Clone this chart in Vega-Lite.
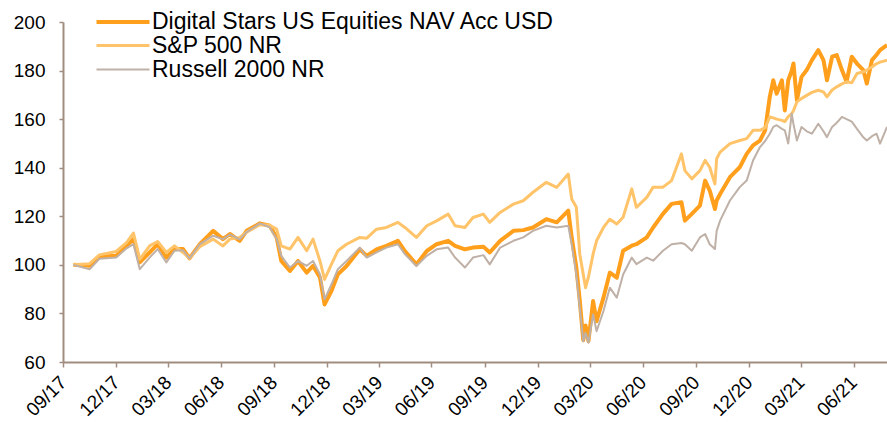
{
  "$schema": "https://vega.github.io/schema/vega-lite/v6.json",
  "width": 824,
  "height": 340,
  "autosize": {"type": "none"},
  "padding": {"left": 63, "top": 22, "right": 0, "bottom": 63},
  "background": "white",
  "config": {"view": {"stroke": null}, "font": "Liberation Sans"},
  "data": {"values": [
    {"date": "2017-10-18", "fund": 100, "sp": 100, "rus": 100},
    {"date": "2017-11-15", "fund": 99.6, "sp": 100.5, "rus": 98.2},
    {"date": "2017-12-02", "fund": 103.3, "sp": 104.1, "rus": 102.5},
    {"date": "2017-12-31", "fund": 103.7, "sp": 105.5, "rus": 103},
    {"date": "2018-01-18", "fund": 107.8, "sp": 109.2, "rus": 106.8},
    {"date": "2018-01-30", "fund": 110.6, "sp": 113.1, "rus": 108.5},
    {"date": "2018-02-10", "fund": 101, "sp": 102.3, "rus": 98.2},
    {"date": "2018-02-27", "fund": 105.1, "sp": 107.8, "rus": 103},
    {"date": "2018-03-13", "fund": 108.5, "sp": 109.6, "rus": 106.5},
    {"date": "2018-03-28", "fund": 103, "sp": 105.1, "rus": 101},
    {"date": "2018-04-11", "fund": 106.5, "sp": 107.8, "rus": 105.8},
    {"date": "2018-04-26", "fund": 106.5, "sp": 105.1, "rus": 106},
    {"date": "2018-05-07", "fund": 102.7, "sp": 102.7, "rus": 102.7},
    {"date": "2018-05-25", "fund": 108.5, "sp": 107.5, "rus": 108.5},
    {"date": "2018-06-17", "fund": 114, "sp": 110.6, "rus": 112},
    {"date": "2018-07-04", "fund": 110.6, "sp": 107.8, "rus": 110.6},
    {"date": "2018-07-16", "fund": 112.7, "sp": 110.6, "rus": 112.5},
    {"date": "2018-08-02", "fund": 109.9, "sp": 111.3, "rus": 110.5},
    {"date": "2018-08-14", "fund": 114, "sp": 113.5, "rus": 113.5},
    {"date": "2018-09-06", "fund": 117.1, "sp": 116.5, "rus": 117.1},
    {"date": "2018-09-23", "fund": 116.1, "sp": 116.3, "rus": 115.5},
    {"date": "2018-10-05", "fund": 111.3, "sp": 114.7, "rus": 110.6},
    {"date": "2018-10-13", "fund": 101.6, "sp": 107.8, "rus": 103.7},
    {"date": "2018-10-28", "fund": 97.5, "sp": 106.5, "rus": 98.9},
    {"date": "2018-11-11", "fund": 101.6, "sp": 111.3, "rus": 101.6},
    {"date": "2018-11-26", "fund": 96.8, "sp": 105.8, "rus": 99.6},
    {"date": "2018-12-07", "fund": 99.6, "sp": 110.6, "rus": 101.6},
    {"date": "2018-12-19", "fund": 94.8, "sp": 101.6, "rus": 96.1},
    {"date": "2018-12-27", "fund": 83.7, "sp": 94, "rus": 85.8},
    {"date": "2019-01-08", "fund": 89.3, "sp": 100.3, "rus": 92},
    {"date": "2019-01-19", "fund": 96.1, "sp": 105.8, "rus": 98.2},
    {"date": "2019-02-03", "fund": 99.5, "sp": 108.5, "rus": 101.6},
    {"date": "2019-02-26", "fund": 106.4, "sp": 111.3, "rus": 107.1},
    {"date": "2019-03-10", "fund": 103.7, "sp": 111, "rus": 103},
    {"date": "2019-03-27", "fund": 106.4, "sp": 114.7, "rus": 105.1},
    {"date": "2019-04-13", "fund": 107.8, "sp": 115.4, "rus": 107.1},
    {"date": "2019-05-03", "fund": 109.9, "sp": 117.5, "rus": 108.5},
    {"date": "2019-05-15", "fund": 105.7, "sp": 115.4, "rus": 104.4},
    {"date": "2019-06-04", "fund": 100.2, "sp": 111.3, "rus": 99.5},
    {"date": "2019-06-22", "fund": 105.7, "sp": 116.1, "rus": 103.7},
    {"date": "2019-07-09", "fund": 108.5, "sp": 118.1, "rus": 106.4},
    {"date": "2019-07-29", "fund": 109.9, "sp": 120.9, "rus": 107.1},
    {"date": "2019-08-10", "fund": 107.8, "sp": 116.1, "rus": 103},
    {"date": "2019-08-27", "fund": 106.4, "sp": 115.4, "rus": 98.9},
    {"date": "2019-09-10", "fund": 107.1, "sp": 119.5, "rus": 103},
    {"date": "2019-09-28", "fund": 107.5, "sp": 120.9, "rus": 104},
    {"date": "2019-10-09", "fund": 105.1, "sp": 117.5, "rus": 100.2},
    {"date": "2019-10-27", "fund": 109.9, "sp": 121.6, "rus": 107.1},
    {"date": "2019-11-19", "fund": 114, "sp": 125, "rus": 109.9},
    {"date": "2019-12-06", "fund": 114.3, "sp": 126.4, "rus": 111.3},
    {"date": "2019-12-23", "fund": 115.4, "sp": 129.9, "rus": 114},
    {"date": "2020-01-15", "fund": 118.8, "sp": 134, "rus": 116.1},
    {"date": "2020-02-02", "fund": 117.5, "sp": 131.9, "rus": 115.4},
    {"date": "2020-02-22", "fund": 122.3, "sp": 137.4, "rus": 116.1},
    {"date": "2020-02-28", "fund": 111.3, "sp": 127.1, "rus": 108.5},
    {"date": "2020-03-07", "fund": 98.9, "sp": 123.7, "rus": 96.1},
    {"date": "2020-03-13", "fund": 85.1, "sp": 104.4, "rus": 82.3},
    {"date": "2020-03-19", "fund": 69, "sp": 96, "rus": 68.5},
    {"date": "2020-03-23", "fund": 75, "sp": 90.6, "rus": 72},
    {"date": "2020-03-28", "fund": 68.6, "sp": 95, "rus": 67.9},
    {"date": "2020-04-05", "fund": 85.1, "sp": 104.4, "rus": 79.6},
    {"date": "2020-04-11", "fund": 76.8, "sp": 109.9, "rus": 72.7},
    {"date": "2020-04-23", "fund": 86.5, "sp": 115.4, "rus": 81},
    {"date": "2020-05-04", "fund": 96.8, "sp": 118.8, "rus": 90.6},
    {"date": "2020-05-16", "fund": 94.7, "sp": 116.8, "rus": 86.5},
    {"date": "2020-05-27", "fund": 105.8, "sp": 119.6, "rus": 96},
    {"date": "2020-06-11", "fund": 107.9, "sp": 131.3, "rus": 103},
    {"date": "2020-06-19", "fund": 108.5, "sp": 123.7, "rus": 100.3},
    {"date": "2020-07-07", "fund": 111.3, "sp": 127.8, "rus": 103},
    {"date": "2020-07-18", "fund": 115.4, "sp": 132, "rus": 101.7},
    {"date": "2020-08-04", "fund": 121, "sp": 132, "rus": 105.8},
    {"date": "2020-08-19", "fund": 125.1, "sp": 134.7, "rus": 108.5},
    {"date": "2020-09-05", "fund": 125.8, "sp": 145.7, "rus": 109},
    {"date": "2020-09-11", "fund": 118.2, "sp": 138.8, "rus": 108.5},
    {"date": "2020-09-23", "fund": 121, "sp": 135.4, "rus": 105.8},
    {"date": "2020-10-07", "fund": 124.4, "sp": 138.8, "rus": 111.3},
    {"date": "2020-10-16", "fund": 134.7, "sp": 143, "rus": 112.7},
    {"date": "2020-10-24", "fund": 130.6, "sp": 140.2, "rus": 108.5},
    {"date": "2020-11-02", "fund": 123, "sp": 133.3, "rus": 106.5},
    {"date": "2020-11-05", "fund": 126.5, "sp": 143.7, "rus": 114},
    {"date": "2020-11-11", "fund": 129.2, "sp": 146.4, "rus": 118.2},
    {"date": "2020-11-28", "fund": 136.1, "sp": 149.9, "rus": 126.5},
    {"date": "2020-12-15", "fund": 140.2, "sp": 151.2, "rus": 132},
    {"date": "2020-12-27", "fund": 145.7, "sp": 152, "rus": 134.7},
    {"date": "2021-01-07", "fund": 149.2, "sp": 155.4, "rus": 143},
    {"date": "2021-01-19", "fund": 151.2, "sp": 155.4, "rus": 148.5},
    {"date": "2021-01-28", "fund": 155.4, "sp": 156.5, "rus": 151},
    {"date": "2021-02-05", "fund": 169.2, "sp": 160.9, "rus": 154},
    {"date": "2021-02-11", "fund": 176, "sp": 160.5, "rus": 156.8},
    {"date": "2021-02-17", "fund": 170.5, "sp": 160, "rus": 157.5},
    {"date": "2021-02-26", "fund": 176, "sp": 159.5, "rus": 156},
    {"date": "2021-03-03", "fund": 163.6, "sp": 159, "rus": 155.4},
    {"date": "2021-03-09", "fund": 176, "sp": 161, "rus": 150},
    {"date": "2021-03-15", "fund": 180, "sp": 162.3, "rus": 162.3},
    {"date": "2021-03-18", "fund": 182.9, "sp": 163.5, "rus": 158},
    {"date": "2021-03-24", "fund": 167.8, "sp": 167.1, "rus": 151.2},
    {"date": "2021-04-01", "fund": 177.4, "sp": 168.5, "rus": 156.8},
    {"date": "2021-04-10", "fund": 180.2, "sp": 169.8, "rus": 155},
    {"date": "2021-04-19", "fund": 184.3, "sp": 171, "rus": 154},
    {"date": "2021-04-30", "fund": 188.4, "sp": 171.9, "rus": 158.1},
    {"date": "2021-05-09", "fund": 184.3, "sp": 171.2, "rus": 155},
    {"date": "2021-05-15", "fund": 176, "sp": 169.2, "rus": 152.6},
    {"date": "2021-05-24", "fund": 185.7, "sp": 172, "rus": 156.8},
    {"date": "2021-06-01", "fund": 186.4, "sp": 173.3, "rus": 158.5},
    {"date": "2021-06-10", "fund": 180.2, "sp": 174.5, "rus": 160.9},
    {"date": "2021-06-18", "fund": 175.4, "sp": 175.4, "rus": 160},
    {"date": "2021-06-27", "fund": 185.7, "sp": 175, "rus": 159},
    {"date": "2021-07-06", "fund": 182.9, "sp": 178.8, "rus": 156},
    {"date": "2021-07-17", "fund": 180.2, "sp": 179.5, "rus": 152.5},
    {"date": "2021-07-23", "fund": 174.7, "sp": 180.2, "rus": 151.2},
    {"date": "2021-08-01", "fund": 184.3, "sp": 181.5, "rus": 153},
    {"date": "2021-08-09", "fund": 186.5, "sp": 182.9, "rus": 154},
    {"date": "2021-08-15", "fund": 188.4, "sp": 183.5, "rus": 149.9},
    {"date": "2021-08-27", "fund": 190.5, "sp": 184.3, "rus": 156.8}
  ]},
  "transform": [{"fold": ["fund", "sp", "rus"], "as": ["series", "value"]}],
  "mark": {"type": "line", "strokeJoin": "round"},
  "encoding": {
    "x": {
      "field": "date", "type": "temporal",
      "scale": {"domain": [{"year": 2017, "month": 9, "date": 30}, {"year": 2021, "month": 8, "date": 27}]},
      "axis": {
        "title": null, "grid": false,
        "values": [
          {"year": 2017, "month": 9, "date": 30}, {"year": 2017, "month": 12, "date": 31},
          {"year": 2018, "month": 3, "date": 31}, {"year": 2018, "month": 6, "date": 30},
          {"year": 2018, "month": 9, "date": 30}, {"year": 2018, "month": 12, "date": 31},
          {"year": 2019, "month": 3, "date": 31}, {"year": 2019, "month": 6, "date": 30},
          {"year": 2019, "month": 9, "date": 30}, {"year": 2019, "month": 12, "date": 31},
          {"year": 2020, "month": 3, "date": 31}, {"year": 2020, "month": 6, "date": 30},
          {"year": 2020, "month": 9, "date": 30}, {"year": 2020, "month": 12, "date": 31},
          {"year": 2021, "month": 3, "date": 31}, {"year": 2021, "month": 6, "date": 30}
        ],
        "format": "%m/%y", "labelAngle": -45, "labelAlign": "right", "labelBaseline": "middle",
        "labelFontSize": 19, "labelColor": "#000000", "labelPadding": 12, "labelDx": -9, "labelDy": 8,
        "labelFlush": false, "labelOverlap": false,
        "tickSize": 5, "tickColor": "#A08D80", "tickWidth": 1.5, "domainColor": "#A08D80", "domainWidth": 2
      }
    },
    "y": {
      "field": "value", "type": "quantitative",
      "scale": {"domain": [60, 200], "nice": false, "zero": false},
      "axis": {
        "title": null, "grid": false, "values": [60, 80, 100, 120, 140, 160, 180, 200],
        "labelFontSize": 19, "labelColor": "#000000", "labelPadding": 14,
        "tickSize": 4, "tickColor": "#A08D80", "tickWidth": 1.5, "domainColor": "#A08D80", "domainWidth": 2
      }
    },
    "color": {
      "field": "series", "type": "nominal",
      "scale": {"domain": ["fund", "sp", "rus"], "range": ["#FF9F1C", "#FFC46A", "#BFB1A7"]},
      "legend": {
        "title": null, "orient": "none", "legendX": 48, "legendY": -12,
        "symbolType": "M-2.65,0H2.65", "symbolSize": 400,
        "labelFontSize": 23, "labelColor": "#000000", "labelLimit": 700, "labelOffset": 17, "rowPadding": 0, "padding": 0,
        "labelExpr": "datum.value == 'fund' ? 'Digital Stars US Equities NAV Acc USD' : datum.value == 'sp' ? 'S&P 500 NR' : 'Russell 2000 NR'"
      }
    },
    "strokeWidth": {
      "field": "series", "type": "nominal",
      "scale": {"domain": ["fund", "sp", "rus"], "range": [4, 2, 2]},
      "legend": {
        "title": null, "orient": "none", "legendX": 48, "legendY": -12,
        "symbolType": "M-2.65,0H2.65", "symbolSize": 400,
        "labelFontSize": 23, "labelColor": "#000000", "labelLimit": 700, "labelOffset": 17, "rowPadding": 0, "padding": 0,
        "labelExpr": "datum.value == 'fund' ? 'Digital Stars US Equities NAV Acc USD' : datum.value == 'sp' ? 'S&P 500 NR' : 'Russell 2000 NR'"
      }
    }
  }
}
